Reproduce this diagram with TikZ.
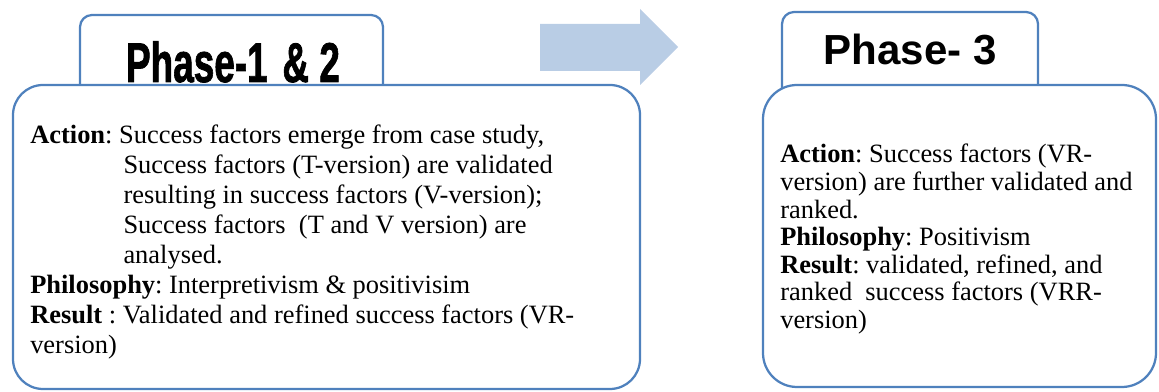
\documentclass[tikz,border=0pt]{standalone}
\usepackage{fontspec}
\setmainfont{Liberation Serif}
\newfontfamily\headfont{Liberation Sans}
\newfontfamily\heavyfont{Liberation Sans Bold}[FakeBold=1.6]
\usepackage{graphicx}
\usetikzlibrary{positioning}
\frenchspacing
\definecolor{frameblue}{RGB}{79,129,189}
\definecolor{arrowblue}{RGB}{185,205,229}
\tikzset{
  tab/.style={rounded corners=0.3cm, draw=frameblue, line width=1.6pt, fill=white},
  panel/.style={draw=frameblue, line width=1.6pt, fill=white},
  title/.style={inner sep=0pt, anchor=base},
  body/.style={align=left, inner sep=0pt, anchor=north west}
}
\begin{document}
\begin{tikzpicture}[x=0.025cm, y=-0.025cm]
  \useasboundingbox (0,0) rectangle (1159,392);
  % phase 1 & 2
  \draw [tab] (80,15) rectangle (383,120);
  \draw [panel, rounded corners=0.75cm] (13,85) rectangle (640,389);
  % phase 3
  \draw [tab] (782,12) rectangle (1038,120);
  \draw [panel, rounded corners=0.85cm] (763,85) rectangle (1156,387);
  % block arrow between the phases
  \fill [arrowblue] (540,24) -- (640,24) -- (640,9) -- (678,47) -- (640,85) -- (640,71) -- (540,71) -- cycle;

  \node (head12) [title, font=\heavyfont\fontsize{39.8}{40}\selectfont] at (233,82) {\scalebox{0.66}[1]{Phase-1\hspace{0.4em}\& 2}};
  \node (head3) [title, font=\headfont\bfseries\fontsize{29.9}{30}\selectfont] at (910,65) {Phase- 3};

  \node (text12) [body, font=\fontsize{18.8}{21.3}\selectfont] at (30,125) {%
    \textbf{Action}: Success factors emerge from case study,\\
    \hspace*{2.33cm}Success factors (T-version) are validated\\
    \hspace*{2.33cm}resulting in success factors (V-version);\\
    \hspace*{2.33cm}Success factors~~(T and V version) are\\
    \hspace*{2.33cm}analysed.\\
    \textbf{Philosophy}: Interpretivism \& positivisim\\
    \textbf{Result} : Validated and refined success factors (VR-\\
    version)};
  \node (text3) [body, font=\fontsize{18.8}{19.6}\selectfont] at (780,144) {%
    \textbf{Action}: Success factors (VR-\\
    version) are further validated and\\
    ranked.\\
    \textbf{Philosophy}: Positivism\\
    \textbf{Result}: validated, refined, and\\
    ranked~~success factors (VRR-\\
    version)};
\end{tikzpicture}
\end{document}
